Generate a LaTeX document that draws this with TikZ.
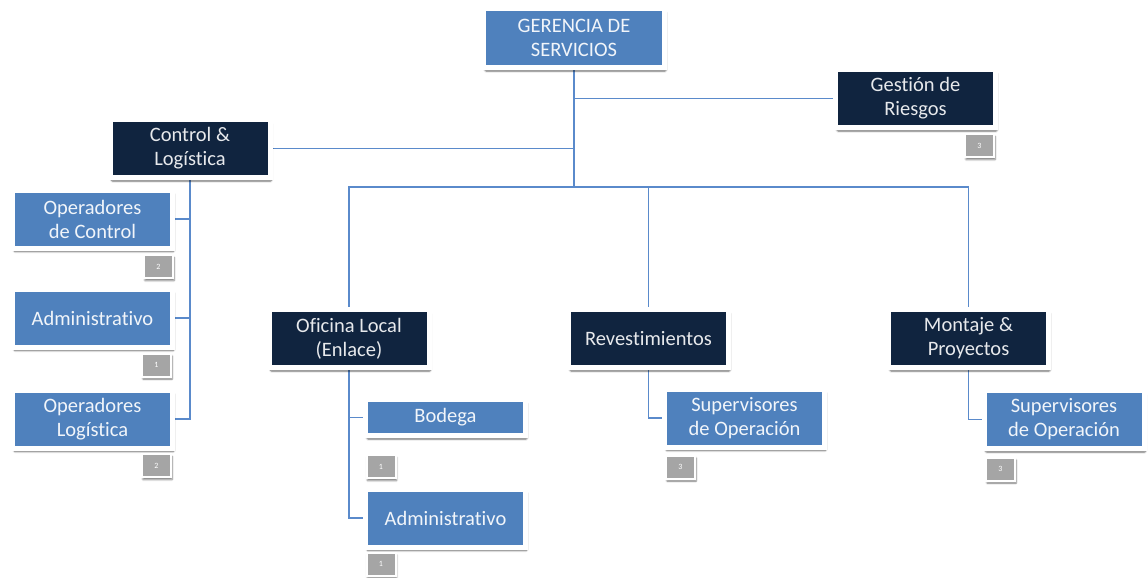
\documentclass[tikz,border=0pt]{standalone}
\usepackage{fontspec}
\setmainfont{Carlito}[Ligatures=NoCommon]
\usetikzlibrary{shadows.blur,backgrounds}
\definecolor{unitblue}{HTML}{4F81BD}
\definecolor{unitnavy}{HTML}{10243F}
\definecolor{countgrey}{HTML}{A5A5A5}
\definecolor{linkblue}{HTML}{5A8ACB}
\tikzset{
  unit/.style={rectangle, draw=white, line width=5pt, minimum width=160pt,
    minimum height=58pt, inner sep=1pt, align=center, text=white,
    font=\fontsize{20.5}{24}\selectfont,
    blur shadow={shadow xshift=1.5pt, shadow yshift=-3.5pt, shadow opacity=60,
      shadow blur steps=6, shadow blur extra rounding=1pt}},
  lightunit/.style={unit, fill=unitblue, text=white!92!unitblue},
  darkunit/.style={unit, fill=unitnavy, text=white!90!unitnavy},
  count/.style={rectangle, draw=white, line width=2pt, fill=countgrey,
    minimum width=29pt, minimum height=23pt, inner sep=0pt, text=white,
    font=\fontsize{8}{9}\selectfont,
    blur shadow={shadow xshift=1pt, shadow yshift=-2.5pt, shadow opacity=55,
      shadow blur steps=4}},
  link/.style={draw=linkblue, line width=1.4pt}
}
\begin{document}
\begin{tikzpicture}[x=1pt, y=-1pt]
\useasboundingbox (0,0) rectangle (1148,578);

% top of the hierarchy
\node[lightunit, minimum width=181pt, minimum height=59pt] (ger) at (574,38) {GERENCIA DE\\SERVICIOS};
\node[darkunit] (ges) at (915.5,98.5) {Gestión de\\Riesgos};
\node[count] (nges) at (979.5,145.5) {3};

% control and logistics branch
\node[darkunit] (ctl) at (190,148.5) {Control \&\\Logística};
\node[lightunit] (opc) at (92.5,219) {Operadores\\de Control};
\node[count] (nopc) at (158.5,266.5) {2};
\node[lightunit] (adl) at (92.5,318) {Administrativo};
\node[count] (nadl) at (156.5,365) {1};
\node[lightunit] (opl) at (92.5,419) {Operadores\\Logística};
\node[count] (nopl) at (156.5,465.5) {2};

% operating units
\node[darkunit] (ofi) at (349,338.5) {Oficina Local\\(Enlace)};
\node[darkunit] (rev) at (648.5,338.5) {Revestimientos};
\node[darkunit] (mon) at (968.5,338.5) {Montaje \&\\Proyectos};

% staff under each operating unit
\node[lightunit, minimum height=36pt] (bod) at (445.5,417.5) {Bodega};
\node[count] (nbod) at (381,466.5) {1};
\node[lightunit] (adm) at (445.5,518) {Administrativo};
\node[count] (nadm) at (381,564) {1};
\node[lightunit] (sup) at (744.5,418) {Supervisores\\de Operación};
\node[count] (nsup) at (680.5,467) {3};
\node[lightunit] (sum) at (1064,419.5) {Supervisores\\de Operación};
\node[count] (nsum) at (1000.5,469) {3};

\coordinate (hub) at (574,187);

\begin{scope}[on background layer]
  \draw[link] (ger.south) -- (hub);
  \draw[link] (ger.south) |- (ges.west);
  \draw[link] (ctl.east) -| (hub);
  \draw[link] (ofi.north) |- (hub);
  \draw[link] (rev.north) |- (hub);
  \draw[link] (mon.north) |- (hub);
  \draw[link] (ctl.south) |- (opc.east);
  \draw[link] (ctl.south) |- (adl.east);
  \draw[link] (ctl.south) |- (opl.east);
  \draw[link] (ofi.south) |- (bod.west);
  \draw[link] (ofi.south) |- (adm.west);
  \draw[link] (rev.south) |- (sup.west);
  \draw[link] (mon.south) |- (sum.west);
\end{scope}
\end{tikzpicture}
\end{document}
